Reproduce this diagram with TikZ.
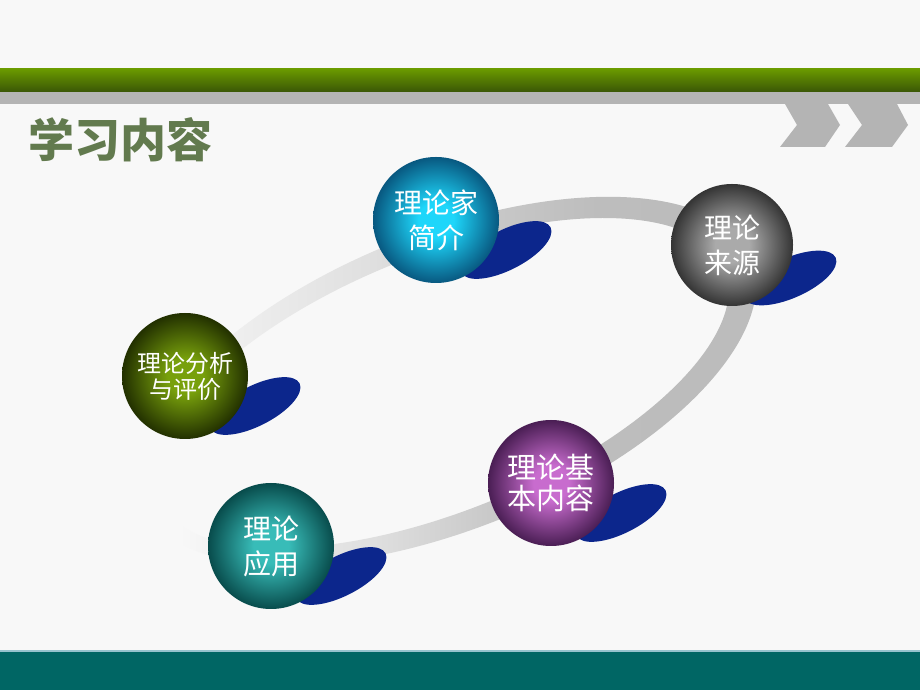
\documentclass[tikz,border=0pt]{standalone}
\usepackage{fontspec}
\newfontfamily\cjk{Noto Sans CJK SC}
\definecolor{pagebg}{RGB}{248,248,248}
\definecolor{bandtop}{RGB}{106,154,0}
\definecolor{bandbot}{RGB}{58,86,6}
\definecolor{chevgray}{RGB}{180,180,180}
\definecolor{titlegreen}{RGB}{98,122,78}
\definecolor{shadowblue}{RGB}{12,38,140}
\definecolor{footteal}{RGB}{0,102,100}
\definecolor{footline}{RGB}{150,195,205}
\definecolor{introin}{RGB}{30,214,250}
\definecolor{introout}{RGB}{8,88,128}
\definecolor{analysisin}{RGB}{120,160,12}
\definecolor{analysisout}{RGB}{34,48,0}
\definecolor{sourcein}{RGB}{170,170,170}
\definecolor{sourceout}{RGB}{52,52,52}
\definecolor{contentin}{RGB}{200,108,206}
\definecolor{contentout}{RGB}{74,30,84}
\definecolor{applyin}{RGB}{56,188,184}
\definecolor{applyout}{RGB}{8,76,76}
\pgfdeclarehorizontalshading{ringshade}{100bp}{rgb(0bp)=(0.973,0.973,0.973); rgb(30bp)=(0.973,0.973,0.973); rgb(35bp)=(0.93,0.93,0.93); rgb(44.5bp)=(0.875,0.875,0.875); rgb(54bp)=(0.78,0.78,0.78); rgb(61.5bp)=(0.74,0.74,0.74); rgb(100bp)=(0.73,0.73,0.73)}
\makeatletter
\pgfdeclareradialshading[tikz@radial@inner,tikz@radial@outer]{ballshade}{\pgfpointorigin}{color(0bp)=(tikz@radial@inner); color(7bp)=(tikz@radial@inner); color(25bp)=(tikz@radial@outer); color(50bp)=(tikz@radial@outer)}
\makeatother

\begin{document}
\begin{tikzpicture}[x=1pt,y=1pt,
  title/.style={anchor=west,inner sep=0pt,text=titlegreen,font=\cjk\bfseries\fontsize{46}{46}\selectfont},
  ball/.style 2 args={circle,minimum size=126pt,inner sep=0pt,inner color=#1,outer color=#2,shading=ballshade,text=white,align=center,font=\cjk\fontsize{28}{35}\selectfont},
  shadow/.style={fill=shadowblue}]
\fill[pagebg] (0,0) rectangle (920,690);
% header bands
\shade[top color=bandtop,bottom color=bandbot] (0,598) rectangle (920,621);
\fill[chevgray] (0,586) rectangle (920,598);
\fill[chevgray] (785,586) -- (828,586) -- (840,565) -- (825,543) -- (780,543) -- (797,565) -- cycle;
\fill[chevgray] (848,586) -- (897,586) -- (908,565) -- (892,543) -- (845,543) -- (862,565) -- cycle;
\node[title] (title) at (28,550) {学习内容};
% ring behind the balls
\shade[shading=ringshade,even odd rule]
  (447,309) circle[x radius=328,y radius=148,rotate=22]
  (441,307) circle[x radius=306,y radius=128,rotate=22];
% blue shadows
\fill[shadow] (506,440) circle[x radius=50,y radius=20,rotate=27];
\fill[shadow] (255,284) circle[x radius=50,y radius=20,rotate=27];
\fill[shadow] (790,412) circle[x radius=50,y radius=20,rotate=24];
\fill[shadow] (621,177) circle[x radius=50,y radius=20,rotate=27];
\fill[shadow] (341,114) circle[x radius=50,y radius=20,rotate=27];
% balls
\node[ball={introin}{introout}] (intro) at (436,470) {理论家\\简介};
\node[ball={analysisin}{analysisout},font=\cjk\fontsize{24}{26}\selectfont] (analysis) at (185,314) {理论分析\\与评价};
\node[ball={sourcein}{sourceout},minimum size=122pt] (source) at (732,445) {理论\\来源};
\node[ball={contentin}{contentout},font=\cjk\fontsize{29}{31}\selectfont] (content) at (551,207) {理论基\\本内容};
\node[ball={applyin}{applyout}] (apply) at (271,144) {理论\\应用};
% footer
\fill[footteal] (0,0) rectangle (920,38);
\fill[footline] (0,38) rectangle (920,39.5);
\end{tikzpicture}
\end{document}
